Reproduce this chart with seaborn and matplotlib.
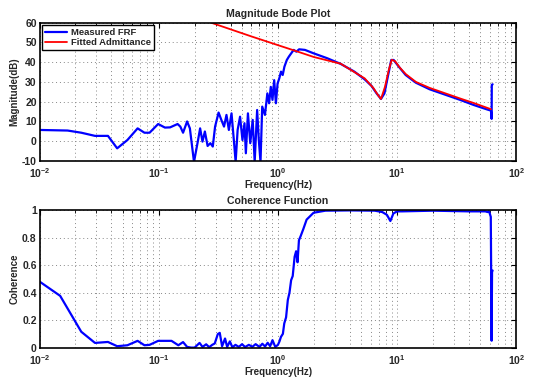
import numpy as np
import pandas as pd
import matplotlib
matplotlib.use("Agg")
import matplotlib.pyplot as plt
import matplotlib.ticker as mticker
import seaborn as sns

# ---- data ----
frf_freq = [0.01, 0.0172, 0.0224, 0.0292, 0.0375, 0.0448, 0.0546, 0.0665, 0.0759, 0.0838,
            0.0989, 0.1127, 0.1245, 0.1439, 0.1517, 0.160, 0.173, 0.1825, 0.1976, 0.2138,
            0.2224, 0.2328, 0.2438, 0.257, 0.271, 0.284, 0.297, 0.3177, 0.335, 0.353,
            0.370, 0.3875, 0.408, 0.430, 0.4416, 0.459, 0.481, 0.504, 0.524, 0.538,
            0.560, 0.586, 0.614, 0.638, 0.669, 0.691, 0.714, 0.738, 0.778, 0.815,
            0.843, 0.871, 0.900, 0.930, 0.961, 0.993, 1.026, 1.061, 1.096, 1.133,
            1.187, 1.235, 1.293, 1.355, 1.428, 1.505, 1.684, 1.985, 2.585, 3.364,
            4.377, 5.335, 6.09, 6.72, 7.32, 7.82, 8.35, 8.92, 9.35, 10.32,
            11.78, 14.35, 18.68, 24.31, 33.8, 44.0, 57.3, 61.2, 62.0, 62.2, 63.2]
frf_mag = [5.7, 5.4, 4.3, 2.7, 2.7, -3.6, 0.6, 6.5, 4.3, 4.3,
           8.7, 6.9, 7.0, 8.7, 7.4, 4.3, 10.0, 6.5, -10.5, 0.6,
           6.5, -0.2, 4.9, -2.4, -1.0, -2.7, 7.4, 14.5, 10.8, 7.4,
           13.3, 5.7, 14.1, -1.9, -10.5, 5.7, 12.4, 0.6, 9.1, -6.1,
           14.1, -1.0, 10.8, -10.5, 15.8, 0.6, -10.5, 17.5, 13.3, 24.2,
           19.2, 27.5, 20.9, 30.9, 19.2, 29.2, 31.8, 35.2, 33.5, 37.7,
           41.1, 42.8, 44.5, 46.2, 45.3, 46.5, 46.2, 44.5, 42.0, 39.1,
           35.2, 31.3, 28.0, 24.2, 21.4, 24.2, 32.7, 41.1, 41.1, 37.7,
           33.5, 29.6, 26.3, 23.9, 20.9, 18.3, 16.0, 15.5, 11.3, 28.5, 28.8]

fit_freq = [0.274, 0.6, 1.0, 1.355, 2.0, 3.364, 5.335, 6.3, 7.0, 7.32,
            7.9, 8.5, 9.0, 9.6, 10.5, 11.78, 14.35, 18.68, 24.31, 33.8, 44.0, 61.2]
fit_mag = [60.0, 53.0, 48.6, 46.0, 42.6, 39.2, 31.8, 27.0, 22.8, 21.4,
           27.5, 36.0, 41.2, 40.5, 37.3, 34.0, 30.0, 27.0, 24.6, 21.6, 19.3, 16.2]

coh_freq = [0.01, 0.0149, 0.0224, 0.0292, 0.0375, 0.0448, 0.0546, 0.0665, 0.0759, 0.0838,
            0.0989, 0.128, 0.146, 0.160, 0.173, 0.187, 0.200, 0.220, 0.233, 0.250,
            0.265, 0.281, 0.295, 0.313, 0.325, 0.340, 0.360, 0.375, 0.395, 0.415,
            0.44, 0.47, 0.50, 0.53, 0.57, 0.61, 0.65, 0.70, 0.74, 0.78,
            0.82, 0.86, 0.90, 0.95, 1.0, 1.03, 1.06, 1.10, 1.13, 1.17,
            1.21, 1.25, 1.29, 1.33, 1.38, 1.42, 1.46, 1.50, 1.55, 1.63,
            1.74, 1.99, 2.5, 4.0, 6.5, 7.5, 8.2, 8.77, 9.3, 10.0,
            11.0, 20.0, 40.0, 55.0, 57.3, 59.0, 60.0, 61.0, 62.0, 62.5, 63.2]
coh = [0.48, 0.376, 0.115, 0.034, 0.041, 0.01, 0.017, 0.049, 0.017, 0.02,
       0.049, 0.049, 0.017, 0.04, 0.005, 0.0, 0.0, 0.034, 0.005, 0.024,
       0.003, 0.02, 0.03, 0.098, 0.107, 0.01, 0.066, 0.005, 0.045, 0.002,
       0.02, 0.005, 0.025, 0.004, 0.02, 0.006, 0.025, 0.005, 0.028, 0.008,
       0.035, 0.01, 0.054, 0.005, 0.02, 0.045, 0.078, 0.10, 0.176, 0.22,
       0.346, 0.40, 0.49, 0.52, 0.66, 0.70, 0.62, 0.78, 0.81, 0.86,
       0.93, 0.98, 0.995, 0.997, 0.995, 0.985, 0.965, 0.92, 0.975, 0.99,
       0.99, 0.995, 0.99, 0.99, 0.985, 0.99, 0.97, 0.95, 0.05, 0.55, 0.56]

BLUE = "#0000ff"
RED = "#ff0000"

sns.set_theme(style="white")
plt.rcParams["font.family"] = ["Liberation Sans", "DejaVu Sans"]
plt.rcParams["font.weight"] = "bold"
plt.rcParams["axes.labelweight"] = "bold"
plt.rcParams["axes.titleweight"] = "bold"

fig = plt.figure(figsize=(5.34, 3.77), dpi=100)
ax1 = fig.add_axes([0.074, 0.573, 0.893, 0.367])
ax2 = fig.add_axes([0.074, 0.078, 0.893, 0.365])

frf_df = pd.DataFrame({"f": frf_freq, "m": frf_mag})
fit_df = pd.DataFrame({"f": fit_freq, "m": fit_mag})
coh_df = pd.DataFrame({"f": coh_freq, "c": coh})

sns.lineplot(data=frf_df, x="f", y="m", ax=ax1, color=BLUE, lw=1.6,
             estimator=None, sort=False, label="Measured FRF")
sns.lineplot(data=fit_df, x="f", y="m", ax=ax1, color=RED, lw=1.3,
             estimator=None, sort=False, label="Fitted Admittance")
sns.lineplot(data=coh_df, x="f", y="c", ax=ax2, color=BLUE, lw=1.6,
             estimator=None, sort=False, legend=False)


def style(ax, ylim, yticks, ylabels, title, ylabel):
    ax.set_xscale("log")
    ax.set_xlim(0.01, 100)
    ax.set_ylim(*ylim)
    ax.set_yticks(yticks)
    ax.set_yticklabels(ylabels)
    ax.xaxis.set_major_locator(mticker.LogLocator(base=10, numticks=10))
    ax.xaxis.set_minor_locator(mticker.LogLocator(base=10, subs=np.arange(2, 10), numticks=20))
    ax.xaxis.set_minor_formatter(mticker.NullFormatter())
    ax.grid(True, which="major", axis="both", linestyle=(0, (1, 3)), color="#888888", lw=0.7)
    ax.grid(True, which="minor", axis="x", linestyle=(0, (1, 3)), color="#888888", lw=0.7)
    for s in ax.spines.values():
        s.set_color("black")
        s.set_linewidth(1.2)
        s.set_visible(True)
    ax.tick_params(which="both", direction="in", top=True, right=True, color="black",
                   labelsize=7.5)
    ax.tick_params(axis="y", pad=2)
    ax.tick_params(axis="x", pad=4)
    ax.tick_params(which="major", length=3.5, width=0.8)
    ax.tick_params(which="minor", length=2, width=0.6)
    for lbl in ax.get_xticklabels() + ax.get_yticklabels():
        lbl.set_fontweight("bold")
    ax.set_title(title, fontsize=7.6, fontweight="bold", pad=4)
    ax.set_xlabel("Frequency(Hz)", fontsize=7, fontweight="bold", labelpad=0)
    ax.set_ylabel(ylabel, fontsize=7, fontweight="bold", labelpad=2)


style(ax1, (-10, 60), [-10, 0, 10, 20, 30, 40, 50, 60],
      ["-10", "0", "10", "20", "30", "40", "50", "60"],
      "Magnitude Bode Plot", "Magnitude(dB)")
style(ax2, (0, 1), [0, 0.2, 0.4, 0.6, 0.8, 1.0],
      ["0", "0.2", "0.4", "0.6", "0.8", "1"],
      "Coherence Function", "Coherence")

leg = ax1.legend(loc="upper left", fontsize=6.8, frameon=True, fancybox=False,
                 framealpha=1, edgecolor="black", borderpad=0.3, labelspacing=0.15,
                 handlelength=2.4, handletextpad=0.4, borderaxespad=0.25)
leg.get_frame().set_linewidth(1.0)
for t in leg.get_texts():
    t.set_fontweight("bold")

fig.savefig("out.png", dpi=100)
